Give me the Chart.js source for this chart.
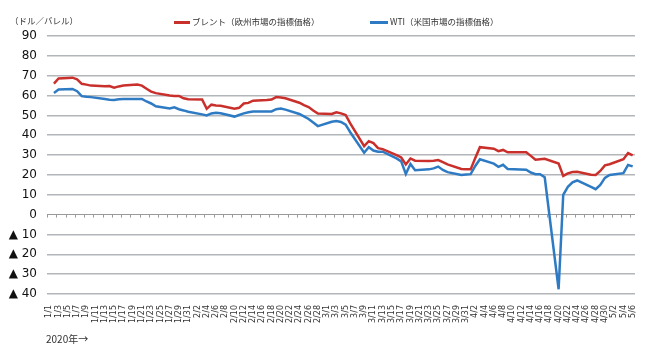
<!DOCTYPE html>
<html>
<head>
<meta charset="utf-8">
<script src="https://cdn.jsdelivr.net/npm/chart.js@4"></script>
<style>
  html, body { margin: 0; padding: 0; background: #fff; }
</style>
</head>
<body>
<canvas id="chart" width="650" height="347"></canvas>
<script>
// every calendar day on the axis (1/1 .. 5/6, 2020), and the days that have a price
const closed = ["1/1", "4/10"];
const days = [];
const tradeDays = [];
for (let d = new Date(2020, 0, 1); d <= new Date(2020, 4, 6); d.setDate(d.getDate() + 1)) {
  const label = (d.getMonth() + 1) + "/" + d.getDate();
  days.push(label);
  if (d.getDay() !== 0 && d.getDay() !== 6 && !closed.includes(label)) tradeDays.push(label);
}

// brent ($/bbl)
const brent = [
  // jan
  66.0, 68.6, 69.0, 68.2, 65.9, 65.5, 65.0, 64.7, 64.8, 64.0, 64.6, 65.0, 65.5, 65.0, 63.4, 62.0, 61.2, 60.0, 59.8, 59.8, 58.6, 58.1,
  // feb
  58.0, 53.3, 55.4, 55.0, 54.9, 53.4, 53.8, 56.0, 56.3, 57.4, 57.7, 58.0, 59.2, 59.0, 58.6, 56.4, 55.2, 54.2, 52.5, 50.9,
  // mar
  50.7, 51.6, 51.0, 50.2, 46.0, 34.5, 37.0, 36.0, 33.5, 33.0, 30.0, 28.8, 25.3, 28.3, 27.2, 27.0, 27.2, 27.5, 26.4, 25.3, 23.0, 22.8,
  // apr
  22.8, 28.5, 34.0, 33.2, 32.0, 32.6, 31.4, 31.4, 29.6, 27.7, 27.9, 28.1, 25.7, 19.5, 20.8, 21.5, 21.6, 20.1, 20.0, 22.0, 24.8,
  // may
  25.4, 27.9, 31.0, 29.8,
];

// wti
const wti = [
  // jan
  61.3, 63.0, 63.3, 62.2, 59.7, 59.4, 59.2, 58.2, 57.9, 57.7, 58.1, 58.3, 58.3, 58.3, 57.0, 56.0, 54.6, 53.5, 54.1, 53.1, 52.5, 51.8,
  // feb
  50.5, 50.0, 51.0, 51.3, 51.1, 49.4, 50.2, 51.0, 51.6, 52.0, 52.0, 52.0, 53.1, 53.5, 52.9, 50.7, 49.5, 48.2, 46.4, 44.6,
  // mar
  46.8, 47.2, 46.7, 45.3, 41.5, 31.2, 34.0, 32.3, 31.7, 31.7, 28.3, 26.8, 20.5, 25.5, 22.4, 22.8, 23.3, 24.2, 22.5, 21.4, 20.0, 20.2,
  // apr
  20.4, 24.5, 27.9, 25.7, 24.1, 25.1, 23.0, 22.6, 21.2, 20.4, 20.4, 18.8, -37.6, 10.0, 14.0, 16.3, 17.2, 14.0, 12.8, 15.0, 18.5,
  // may
  20.0, 20.9, 25.0, 24.3,
];

const yTicks = { min: -40, max: 90, step: 10 };

const RED = "#c9302c";
const BLUE = "#2e7bc4";
const JP = "'Noto Sans CJK JP', sans-serif";

// zero line tick marks + the loose texts around the plot
const extras = {
  id: "extras",
  beforeDatasetsDraw(chart) {
    const { ctx, scales: { x, y } } = chart;
    const y0 = y.getPixelForValue(0);
    const half = (x.getPixelForValue(1) - x.getPixelForValue(0)) / 2;
    ctx.save();
    ctx.strokeStyle = "#9a9a9a";
    ctx.lineWidth = 1;
    ctx.beginPath();
    days.forEach((d, i) => {
      if (i % 2 !== 0) return;
      const px = Math.round(x.getPixelForValue(i) - half) + 0.5;
      ctx.moveTo(px, y0);
      ctx.lineTo(px, y0 + 3);
    });
    ctx.stroke();
    ctx.restore();
  },
  afterDraw(chart) {
    const ctx = chart.ctx;
    ctx.save();
    ctx.fillStyle = "#333";
    ctx.textBaseline = "middle";
    ctx.font = "8.5px " + JP;
    ctx.fillText("（ドル／バレル）", 10, 21);

    // legend
    ctx.lineWidth = 3;
    ctx.strokeStyle = RED;
    ctx.beginPath(); ctx.moveTo(174, 22.5); ctx.lineTo(190, 22.5); ctx.stroke();
    ctx.fillText("ブレント（欧州市場の指標価格）", 192, 22);
    ctx.strokeStyle = BLUE;
    ctx.beginPath(); ctx.moveTo(370, 22.5); ctx.lineTo(388, 22.5); ctx.stroke();
    ctx.fillText("WTI（米国市場の指標価格）", 390, 22);

    ctx.font = "10px " + JP;
    ctx.fillText("2020年→", 46, 339);
    ctx.restore();
  },
};

const series = (vals) => tradeDays.map((d, i) => ({ x: d, y: vals[i] }));

new Chart(document.getElementById("chart"), {
  type: "line",
  data: {
    labels: days,
    datasets: [
      { label: "ブレント（欧州市場の指標価格）", data: series(brent), borderColor: RED, backgroundColor: RED },
      { label: "WTI（米国市場の指標価格）", data: series(wti), borderColor: BLUE, backgroundColor: BLUE },
    ],
  },
  options: {
    responsive: false,
    animation: false,
    layout: { padding: { left: 0, right: 15, top: 36, bottom: 0 } },
    elements: {
      point: { radius: 0 },
      line: { borderWidth: 2.5, tension: 0 },
    },
    plugins: { legend: { display: false }, tooltip: { enabled: false } },
    scales: {
      x: {
        offset: true,
        grid: { display: false },
        border: { display: false },
        ticks: {
          autoSkip: false,
          minRotation: 90,
          maxRotation: 90,
          padding: 3,
          color: "#333",
          font: { size: 8, family: "'DejaVu Sans', sans-serif" },
          callback: (v, i) => (i % 2 === 0 ? days[i] : null),
        },
        afterFit: (s) => { s.height = 53; },
      },
      y: {
        min: yTicks.min,
        max: yTicks.max,
        border: { display: false },
        grid: {
          drawTicks: false,
          lineWidth: (c) => (c.tick && c.tick.value === 0 ? 1 : 1.5),
          color: (c) => (c.tick && c.tick.value === 0 ? "#9a9a9a" : "#b2b6ba"),
        },
        ticks: {
          stepSize: yTicks.step,
          padding: 10,
          color: "#111",
          font: { size: 12, family: "'DejaVu Sans', sans-serif" },
          callback: (v) => (v < 0 ? "▲ " + -v : v),
        },
        afterFit: (s) => { s.width = 47; },
      },
    },
  },
  plugins: [extras],
});
</script>
</body>
</html>
